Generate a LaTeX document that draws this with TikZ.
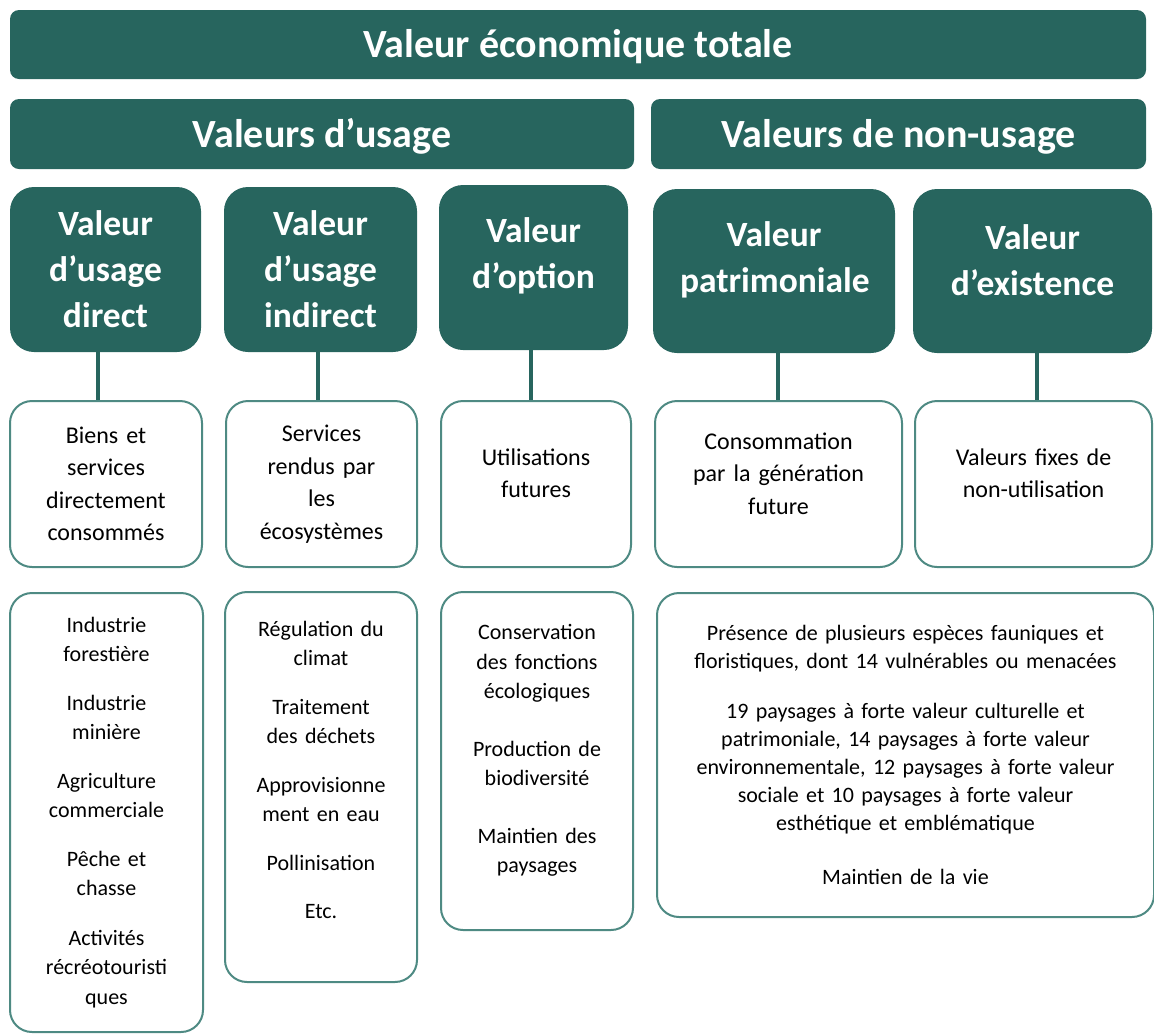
\documentclass[tikz,border=0pt]{standalone}
\usepackage{fontspec}
\setmainfont{Carlito}
\definecolor{vetgreen}{HTML}{27655E}
\definecolor{vetline}{HTML}{4E8A83}
\tikzset{lift/.style={execute at end node={\par\vspace{#1pt}}}}

\begin{document}
\begin{tikzpicture}[x=1pt,y=-1pt]
\tikzstyle{every node}+=[inner sep=0pt]
\tikzstyle{bar}=[fill=vetgreen, rounded corners=9pt, text=white, text height=33pt, text depth=7pt, font=\bfseries\fontsize{40}{44}\selectfont]
\tikzstyle{valbox}=[fill=vetgreen, rounded corners=24pt, text=white, text width=188pt, align=center, font=\bfseries\fontsize{35.5}{46}\selectfont]
\tikzstyle{descbox}=[draw=vetline, line width=2pt, fill=white, rounded corners=22pt, text width=184pt, align=center, font=\fontsize{24}{32.5}\selectfont]
\tikzstyle{listbox}=[descbox, font=\fontsize{22}{29.5}\selectfont]
\tikzstyle{stem}=[draw=vetgreen, line width=4.5pt]
\useasboundingbox (0,0) rectangle (1154,1034);
\node[bar, minimum width=1136pt, minimum height=69pt] (vet) at (578,44.5) {Valeur économique totale};
\node[bar, minimum width=624pt, minimum height=70pt] (usage) at (322,134) {Valeurs d’usage};
\node[bar, minimum width=495pt, minimum height=70pt] (nonusage) at (898.5,134) {Valeurs de non-usage};
\node[valbox, minimum width=191pt, minimum height=165pt] (direct) at (105.5,269.5) {Valeur\\d’usage\\direct};
\node[valbox, minimum width=193pt, minimum height=165pt] (indirect) at (320.5,269.5) {Valeur\\d’usage\\indirect};
\node[valbox, lift=23, minimum width=189pt, minimum height=165pt] (option) at (533.5,267.5) {Valeur\\d’option};
\node[valbox, lift=22, minimum width=242pt, minimum height=164pt] (patrim) at (774,271) {Valeur\\patrimoniale};
\node[valbox, lift=22, minimum width=239pt, minimum height=164pt] (exist) at (1032.5,271) {Valeur\\d’existence};
\node[descbox, minimum width=192pt, minimum height=166pt] (biens) at (106,484) {Biens et\\services\\directement\\consommés};
\node[descbox, minimum width=191pt, minimum height=166pt] (services) at (321.5,484) {Services\\rendus par\\les\\écosystèmes};
\node[descbox, lift=22, minimum width=190pt, minimum height=166pt] (futures) at (536,484) {Utilisations\\futures};
\node[descbox, lift=21, minimum width=247pt, minimum height=166pt] (generation) at (778.5,484) {Consommation\\par la génération\\future};
\node[descbox, lift=22, minimum width=237pt, minimum height=166pt] (fixes) at (1033.5,484) {Valeurs fixes de\\non-utilisation};
\node[listbox, minimum width=193pt, minimum height=439pt] (industries) at (106.5,812.5) {Industrie\\forestière\\[19pt]Industrie\\minière\\[19pt]Agriculture\\commerciale\\[19pt]Pêche et\\chasse\\[20pt]Activités\\récréotouristi\\ques};
\node[listbox, lift=34, minimum width=192pt, minimum height=390pt] (regulation) at (321,787) {Régulation du\\climat\\[19pt]Traitement\\des déchets\\[19pt]Approvisionne\\ment en eau\\[19pt]Pollinisation\\[19pt]Etc.};
\node[listbox, lift=21, minimum width=192pt, minimum height=338pt] (conservation) at (537,761) {Conservation\\des fonctions\\écologiques\\[28pt]Production de\\biodiversité\\[28pt]Maintien des\\paysages};
\node[listbox, text width=480pt, minimum width=497pt, minimum height=324pt, font=\fontsize{22}{28}\selectfont] (especes) at (905.5,755) {Présence de plusieurs espèces fauniques et\\floristiques, dont 14 vulnérables ou menacées\\[22pt]19 paysages à forte valeur culturelle et\\patrimoniale, 14 paysages à forte valeur\\environnementale, 12 paysages à forte valeur\\sociale et 10 paysages à forte valeur\\esthétique et emblématique\\[26pt]Maintien de la vie};
\draw[stem] ([xshift=-7.5pt]direct.south) -- ([xshift=-7.5pt]direct.south |- biens.north);
\draw[stem] ([xshift=-2.5pt]indirect.south) -- ([xshift=-2.5pt]indirect.south |- services.north);
\draw[stem] ([xshift=-2.5pt]option.south) -- ([xshift=-2.5pt]option.south |- futures.north);
\draw[stem] ([xshift=4pt]patrim.south) -- ([xshift=4pt]patrim.south |- generation.north);
\draw[stem] ([xshift=4.5pt]exist.south) -- ([xshift=4.5pt]exist.south |- fixes.north);
\end{tikzpicture}
\end{document}
